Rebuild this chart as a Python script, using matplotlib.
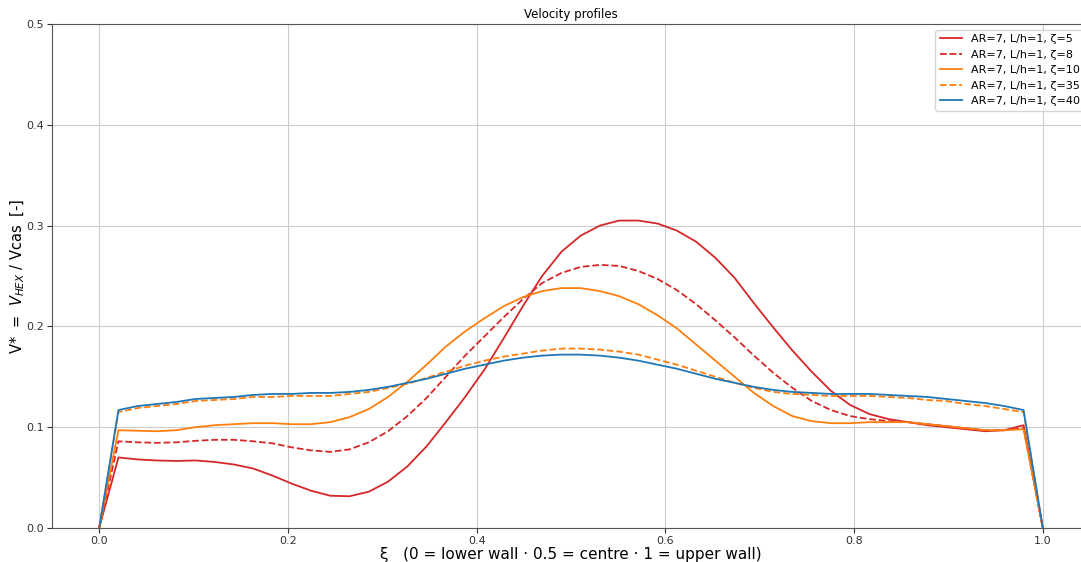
import numpy as np
import matplotlib
matplotlib.use("Agg")
import matplotlib.pyplot as plt

# wall-normal coordinate, 50 stations from lower to upper wall
xi = np.linspace(0.0, 1.0, 50)

v_z5 = [0.0, 0.070, 0.068, 0.067, 0.0665, 0.067, 0.0655, 0.063, 0.059, 0.052,
        0.044, 0.037, 0.032, 0.0315, 0.036, 0.046, 0.061, 0.081, 0.105, 0.130,
        0.157, 0.188, 0.220, 0.250, 0.274, 0.290, 0.300, 0.305, 0.305, 0.302,
        0.295, 0.284, 0.268, 0.248, 0.223, 0.199, 0.176, 0.155, 0.136, 0.122,
        0.113, 0.108, 0.105, 0.102, 0.100, 0.098, 0.096, 0.097, 0.102, 0.0]
v_z8 = [0.0, 0.086, 0.085, 0.0845, 0.085, 0.0865, 0.0875, 0.0875, 0.086, 0.084,
        0.080, 0.077, 0.0755, 0.078, 0.085, 0.096, 0.111, 0.129, 0.150, 0.171,
        0.190, 0.209, 0.227, 0.243, 0.253, 0.259, 0.261, 0.260, 0.255, 0.247,
        0.236, 0.222, 0.206, 0.189, 0.171, 0.154, 0.139, 0.126, 0.117, 0.111,
        0.108, 0.106, 0.105, 0.103, 0.101, 0.099, 0.097, 0.097, 0.099, 0.0]
v_z10 = [0.0, 0.097, 0.0965, 0.096, 0.097, 0.100, 0.102, 0.103, 0.104, 0.104,
         0.103, 0.103, 0.105, 0.110, 0.118, 0.130, 0.145, 0.162, 0.180, 0.195,
         0.208, 0.220, 0.229, 0.235, 0.238, 0.238, 0.235, 0.230, 0.222, 0.211,
         0.198, 0.182, 0.166, 0.150, 0.134, 0.121, 0.111, 0.106, 0.104, 0.104,
         0.105, 0.105, 0.105, 0.103, 0.101, 0.099, 0.097, 0.097, 0.098, 0.0]
v_z35 = [0.0, 0.115, 0.119, 0.121, 0.123, 0.126, 0.127, 0.128, 0.130, 0.130,
         0.131, 0.131, 0.131, 0.133, 0.135, 0.139, 0.143, 0.149, 0.155, 0.161,
         0.166, 0.170, 0.173, 0.176, 0.178, 0.178, 0.177, 0.175, 0.172, 0.167,
         0.162, 0.156, 0.150, 0.144, 0.139, 0.135, 0.133, 0.132, 0.131, 0.131,
         0.131, 0.130, 0.129, 0.127, 0.126, 0.123, 0.121, 0.118, 0.115, 0.0]
v_z40 = [0.0, 0.117, 0.121, 0.123, 0.125, 0.128, 0.129, 0.130, 0.132, 0.133,
         0.133, 0.134, 0.134, 0.135, 0.137, 0.140, 0.144, 0.148, 0.153, 0.158,
         0.162, 0.166, 0.169, 0.171, 0.172, 0.172, 0.171, 0.169, 0.166, 0.162,
         0.158, 0.153, 0.148, 0.144, 0.140, 0.137, 0.135, 0.134, 0.133, 0.133,
         0.133, 0.132, 0.131, 0.130, 0.128, 0.126, 0.124, 0.121, 0.117, 0.0]

series = [
    ("AR=7, L/h=1, ζ=5", v_z5, "tab:red", "-"),
    ("AR=7, L/h=1, ζ=8", v_z8, "tab:red", "--"),
    ("AR=7, L/h=1, ζ=10", v_z10, "tab:orange", "-"),
    ("AR=7, L/h=1, ζ=35", v_z35, "tab:orange", "--"),
    ("AR=7, L/h=1, ζ=40", v_z40, "tab:blue", "-"),
]

fig = plt.figure(figsize=(10.81, 5.62), dpi=100)
ax = fig.add_axes([52 / 1081, 34 / 562, 1038 / 1081, 504 / 562])

for label, v, color, ls in series:
    ax.plot(xi, v, color=color, linestyle=ls, linewidth=1.3, label=label)

ax.set_xlim(-0.05, 1.05)
ax.set_ylim(0, 0.5)
ax.set_xticks([0.0, 0.2, 0.4, 0.6, 0.8, 1.0])
ax.set_yticks([0.0, 0.1, 0.2, 0.3, 0.4, 0.5])
ax.tick_params(labelsize=8, colors="#333333", pad=2)
for s in ax.spines.values():
    s.set_color("#555555")
ax.grid(True, color="#cccccc", linewidth=0.8)
ax.set_axisbelow(True)

ax.set_title("Velocity profiles", fontsize=8.5, pad=4)
ax.set_xlabel("ξ   (0 = lower wall · 0.5 = centre · 1 = upper wall)", fontsize=11, labelpad=1)
ax.set_ylabel("V*  =  $V_{HEX}$ / Vcas  [-]", fontsize=10.5, labelpad=0)
ax.legend(loc="upper right", fontsize=8)

fig.savefig("out.png", dpi=100)
